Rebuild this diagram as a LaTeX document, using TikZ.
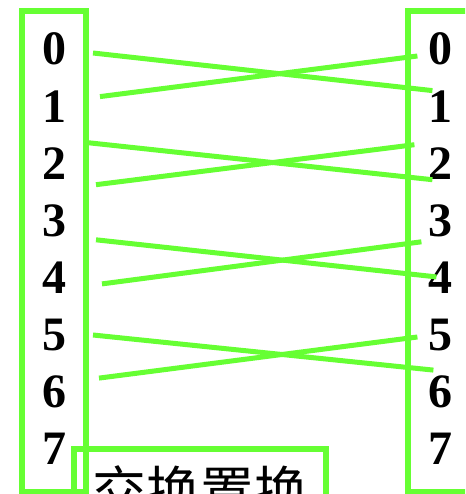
\documentclass[tikz,border=0pt]{standalone}
\usepackage{fontspec}
\setmainfont{Liberation Serif}
\newfontfamily\cjkfont{Noto Sans CJK SC}
\usepackage{tikz}
\usetikzlibrary{positioning}
\definecolor{swapgreen}{RGB}{102,255,51}

\begin{document}
\begin{tikzpicture}[
    x=1pt, y=1pt,
    node distance=23.7pt and 362pt,
    digit/.style={inner sep=0pt, minimum width=24pt, text height=33pt, text depth=0pt, font=\fontsize{48}{48}\selectfont\bfseries},
    frame/.style={draw=swapgreen, line width=6pt},
    wire/.style={draw=swapgreen, line width=5pt}
]
\clip (0,0) rectangle (465,-494);

% the two columns
\draw[frame] (22,-11) rectangle (86,-492);
\draw[frame] (408,-11) rectangle (480,-492);

\node[digit] (l0) at (54,-48.5) {0};
\node[digit, below=of l0] (l1) {1};
\node[digit, below=of l1] (l2) {2};
\node[digit, below=of l2] (l3) {3};
\node[digit, below=of l3] (l4) {4};
\node[digit, below=of l4] (l5) {5};
\node[digit, below=of l5] (l6) {6};
\node[digit, below=of l6] (l7) {7};

\node[digit, right=of l0] (r0) {0};
\node[digit, right=of l1] (r1) {1};
\node[digit, right=of l2] (r2) {2};
\node[digit, right=of l3] (r3) {3};
\node[digit, right=of l4] (r4) {4};
\node[digit, right=of l5] (r5) {5};
\node[digit, right=of l6] (r6) {6};
\node[digit, right=of l7] (r7) {7};

% crossing wires
\draw[wire] ([shift={(39,-4.5)}]l0.center) -- ([shift={(-8,15)}]r1.center);
\draw[wire] ([shift={(46,9)}]l1.center) -- ([shift={(-23,-7.5)}]r0.center);
\draw[wire] ([shift={(34,20)}]l2.center) -- ([shift={(-8,-17)}]r2.center);
\draw[wire] ([shift={(42,-22)}]l2.center) -- ([shift={(-26,18)}]r2.center);
\draw[wire] ([shift={(42,-20)}]l3.center) -- ([shift={(-4,0)}]r4.center);
\draw[wire] ([shift={(48,-7)}]l4.center) -- ([shift={(-19,-22)}]r3.center);
\draw[wire] ([shift={(39,-1)}]l5.center) -- ([shift={(-7,21)}]r6.center);
\draw[wire] ([shift={(45,13)}]l6.center) -- ([shift={(-23,-3)}]r5.center);

% caption box
\node[frame, outer sep=0pt, anchor=north west, inner xsep=18pt, inner ysep=16pt, text height=46pt, text depth=12pt,
      font=\cjkfont\fontsize{54}{54}\selectfont] (title) at (74,-449) {交换置换};
\end{tikzpicture}
\end{document}
